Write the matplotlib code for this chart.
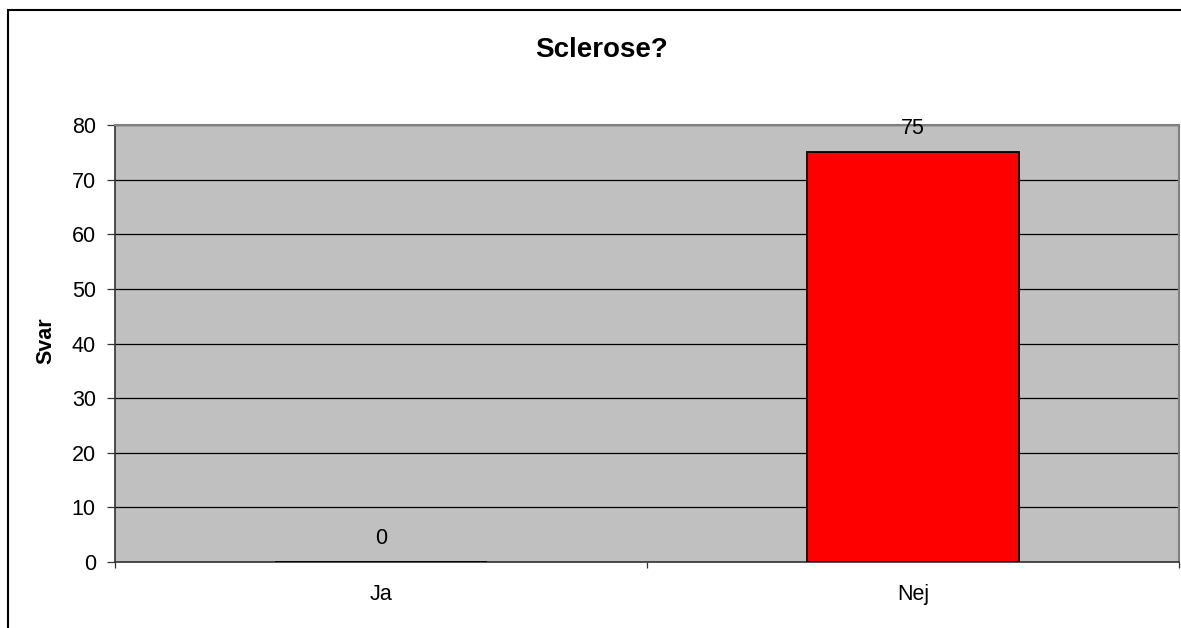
import matplotlib
matplotlib.use("Agg")
import matplotlib.pyplot as plt
from matplotlib.patches import Rectangle

categories = ["Ja", "Nej"]
values = [0, 75]
yticks = [0, 10, 20, 30, 40, 50, 60, 70, 80]

plt.rcParams['font.family'] = ['Liberation Sans', 'DejaVu Sans']

W, H = 1181, 628
fig = plt.figure(figsize=(W / 100, H / 100), dpi=100)
fig.patch.set_facecolor("white")

# outer chart border
fig.add_artist(Rectangle((8 / W, -0.2), 1.2, 1 - 10 / H + 0.2, transform=fig.transFigure,
                         fill=False, edgecolor="black", linewidth=1.5, clip_on=False))

ax = fig.add_axes([115 / W, 1 - 562 / H, (1179 - 115) / W, (562 - 125) / H])
ax.set_facecolor("#c0c0c0")

FS = 15.5
x = list(range(len(categories)))
bars = ax.bar(x, values, width=0.4, color="#ff0000", edgecolor="black", linewidth=1.3, zorder=3)
for xi, v in zip(x, values):
    ax.text(xi, v + 3.3, str(v), ha="center", va="baseline", fontsize=FS, color="black", zorder=4)

ax.set_xlim(-0.5, len(categories) - 0.5)
ax.set_ylim(0, 80)
ax.set_yticks(yticks)
ax.set_yticklabels([str(t) for t in yticks], fontsize=FS)
ax.yaxis.grid(True, color="black", linewidth=0.9, zorder=1)
ax.set_axisbelow(True)

# category boundary ticks on x axis, labels at centers
ax.set_xticks([-0.5, 0.5, 1.5])
ax.set_xticklabels([])
ax.set_xticks(x, minor=True)
ax.set_xticklabels(categories, minor=True, fontsize=FS)
ax.tick_params(axis="x", which="minor", length=0, pad=16)
ax.tick_params(axis="x", which="major", length=4.5, width=0.9, color="#333333", direction="out")
ax.tick_params(axis="y", length=5.8, width=0.9, color="#333333", direction="out", pad=8)

for side in ["top", "right"]:
    ax.spines[side].set_color("#808080")
    ax.spines[side].set_linewidth(1.5)
for side in ["left", "bottom"]:
    ax.spines[side].set_color("#333333")
    ax.spines[side].set_linewidth(1.2)

fig.text(46 / W, 1 - 341 / H, "Svar", ha="center", va="center", rotation=90,
         fontsize=FS, fontweight="bold")
fig.text(602 / W, 1 - 50 / H, "Sclerose?", ha="center", va="center", fontsize=20, fontweight="bold")

fig.savefig("out.png", dpi=100)
